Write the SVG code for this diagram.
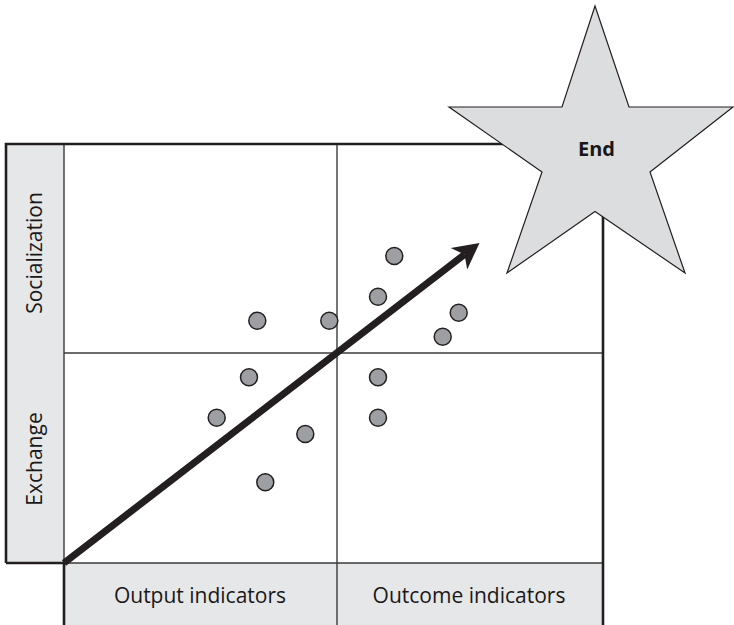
<svg xmlns="http://www.w3.org/2000/svg" width="734" height="625" viewBox="0 0 734 625">
<style>
.cell{fill:#e6e7e8;stroke:none}
.inner{stroke:#3a3a3a;stroke-width:1.4;fill:none}
.outer{stroke:#231f20;stroke-width:2.6;fill:none}
.lbl{font-family:"Open Sans","Noto Sans","Liberation Sans",sans-serif;font-size:21px;fill:#1a1718;text-anchor:middle}
.dot{fill:#9d9fa2;stroke:#231f20;stroke-width:1.5}
.star{fill:#dcdddf;stroke:#231f20;stroke-width:1.2}
.end{font-family:"Open Sans","Noto Sans","Liberation Sans",sans-serif;font-size:20px;font-weight:bold;fill:#1a1718;text-anchor:middle}
</style>
<defs>
<marker id="head" markerUnits="userSpaceOnUse" viewBox="0 -14 27 28" refX="7" refY="0" markerWidth="27" markerHeight="28" orient="auto" overflow="visible">
<path d="M0,-13.5 L26,0 L0,13.5 L7,0 Z" fill="#231f20"/>
</marker>
</defs>
<rect width="734" height="625" fill="#ffffff"/>
<g id="grid">
<rect class="cell" x="6" y="144" width="58" height="419"/>
<rect class="cell" x="64" y="563" width="539" height="62"/>
<line class="inner" x1="64" y1="144" x2="64" y2="563"/>
<line class="inner" x1="64" y1="563" x2="603" y2="563"/>
<line class="inner" x1="337" y1="144" x2="337" y2="625"/>
<line class="inner" x1="64" y1="353" x2="603" y2="353"/>
<path class="outer" d="M6,563 L6,144 L603,144 L603,625"/>
<path class="outer" d="M6,563 L64,563 L64,625"/>
</g>
<g id="label-socialization"><text class="lbl" transform="translate(42,253) rotate(-90)">Socialization</text></g>
<g id="label-exchange"><text class="lbl" transform="translate(42,459) rotate(-90)">Exchange</text></g>
<g id="label-output"><text class="lbl" x="200" y="603">Output indicators</text></g>
<g id="label-outcome"><text class="lbl" x="469" y="603">Outcome indicators</text></g>
<g id="dots">
<circle class="dot" cx="394.3" cy="256" r="8.5"/>
<circle class="dot" cx="378" cy="296.7" r="8.5"/>
<circle class="dot" cx="257.3" cy="320.7" r="8.5"/>
<circle class="dot" cx="329.3" cy="320.7" r="8.5"/>
<circle class="dot" cx="458.7" cy="312.7" r="8.5"/>
<circle class="dot" cx="442.7" cy="336.7" r="8.5"/>
<circle class="dot" cx="249" cy="377.3" r="8.5"/>
<circle class="dot" cx="378" cy="377.3" r="8.5"/>
<circle class="dot" cx="216.7" cy="417.7" r="8.5"/>
<circle class="dot" cx="378" cy="417.7" r="8.5"/>
<circle class="dot" cx="305.3" cy="434" r="8.5"/>
<circle class="dot" cx="265.3" cy="482.3" r="8.5"/>
</g>
<g id="connectors">
<line x1="64" y1="563" x2="464.5" y2="254.5" stroke="#231f20" stroke-width="7" marker-end="url(#head)"/>
</g>
<g id="end">
<polygon class="star" points="595,6 629,107 733,107 650,172 685,273 595,211.5 507,273 542,172 449,107 562,107"/>
<text class="end" x="596.5" y="156">End</text>
</g>
</svg>
